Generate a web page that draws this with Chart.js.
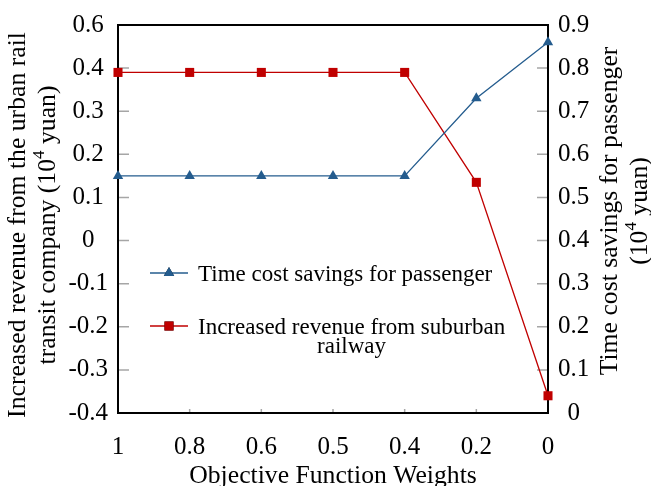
<!DOCTYPE html>
<html>
<head>
<meta charset="utf-8">
<script src="https://cdn.jsdelivr.net/npm/chart.js@4"></script>
<style>
  html, body { margin: 0; padding: 0; background: #fff; }
  #wrap { width: 651px; height: 486px; }
</style>
</head>
<body>
<div id="wrap"><canvas id="c" width="651" height="486"></canvas></div>
<script>
// Objective function weights along the x axis
const weights = ['1', '0.8', '0.6', '0.5', '0.4', '0.2', '0'];
// Time cost savings for passenger (10^4 yuan), right axis
const timeSavings = [0.55, 0.55, 0.55, 0.55, 0.55, 0.73, 0.86];
// Increased revenue from suburban railway (10^4 yuan), left axis
const revenue = [0.39, 0.39, 0.39, 0.39, 0.39, 0.135, -0.36];
// Tick labels printed on the left axis, bottom to top
const leftTickLabels = ['-0.4', '-0.3', '-0.2', '-0.1', '0', '0.1', '0.2', '0.3', '0.4', '0.6'];

const BLUE = '#245C8E';
const RED = '#C00000';
const FONT = "'Liberation Serif', 'Times New Roman', serif";
const TITLE_SIZE = 25.7;

Chart.defaults.font.family = FONT;
Chart.defaults.color = '#000';

// Draws a run of text pieces, some of them raised as superscripts
function richText(ctx, parts, x, y, size, align) {
  const supSize = Math.round(size * 0.66);
  let total = 0;
  parts.forEach(p => {
    ctx.font = (p.sup ? supSize : size) + 'px ' + FONT;
    p.w = ctx.measureText(p.t).width;
    total += p.w;
  });
  let cx = align === 'center' ? x - total / 2 : x;
  ctx.textAlign = 'left';
  ctx.textBaseline = 'alphabetic';
  parts.forEach(p => {
    ctx.font = (p.sup ? supSize : size) + 'px ' + FONT;
    ctx.fillText(p.t, cx, p.sup ? y - size * 0.42 : y);
    cx += p.w;
  });
}

const framePlugin = {
  id: 'frame',
  beforeDatasetsDraw(chart) {
    const { ctx, chartArea: a, scales } = chart;
    ctx.save();
    // inner tick marks
    ctx.strokeStyle = '#A6A6A6';
    ctx.lineWidth = 1.5;
    ctx.beginPath();
    scales.y.ticks.forEach(t => {
      const py = scales.y.getPixelForValue(t.value);
      ctx.moveTo(a.left, py); ctx.lineTo(a.left + 11, py);
    });
    scales.y1.ticks.forEach(t => {
      const py = scales.y1.getPixelForValue(t.value);
      ctx.moveTo(a.right, py); ctx.lineTo(a.right - 11, py);
    });
    scales.x.ticks.forEach((t, i) => {
      const px = scales.x.getPixelForTick(i);
      ctx.moveTo(px, a.bottom); ctx.lineTo(px, a.bottom - 4);
    });
    ctx.stroke();
    // plot frame
    ctx.strokeStyle = '#000';
    ctx.lineWidth = 2;
    ctx.strokeRect(a.left, a.top, a.right - a.left, a.bottom - a.top);
    ctx.restore();
  },
  afterDraw(chart) {
    const { ctx, chartArea: a } = chart;
    ctx.save();
    ctx.fillStyle = '#000';

    // x axis title
    ctx.font = TITLE_SIZE + 'px ' + FONT;
    ctx.textAlign = 'center';
    ctx.textBaseline = 'alphabetic';
    ctx.fillText('Objective Function Weights', (a.left + a.right) / 2, 483);

    // left axis title
    ctx.save();
    ctx.translate(25, 225);
    ctx.rotate(-Math.PI / 2);
    richText(ctx, [{ t: 'Increased revenue from the urban rail' }], 0, 0, TITLE_SIZE, 'center');
    richText(ctx, [{ t: 'transit company (10' }, { t: '4', sup: true }, { t: ' yuan)' }], 0, 30, TITLE_SIZE, 'center');
    ctx.restore();

    // right axis title
    ctx.save();
    ctx.translate(617, 211);
    ctx.rotate(-Math.PI / 2);
    richText(ctx, [{ t: 'Time cost savings for passenger' }], 0, 0, TITLE_SIZE, 'center');
    richText(ctx, [{ t: '(10' }, { t: '4', sup: true }, { t: ' yuan)' }], 0, 30, TITLE_SIZE, 'center');
    ctx.restore();

    // legend
    const items = [
      { color: BLUE, style: 'triangle', y: 273, lines: ['Time cost savings for passenger'] },
      { color: RED, style: 'rect', y: 326, lines: ['Increased revenue from suburban', 'railway'] }
    ];
    items.forEach(it => {
      ctx.strokeStyle = it.color;
      ctx.lineWidth = 1.3;
      ctx.beginPath();
      ctx.moveTo(150, it.y); ctx.lineTo(188, it.y);
      ctx.stroke();
      Chart.helpers.drawPoint(ctx, {
        pointStyle: it.style, radius: it.style === 'rect' ? 6.4 : 6, rotation: 0, borderWidth: 0
      }, 169, it.y);
      ctx.fillStyle = it.color;
      ctx.fill();
      ctx.fillStyle = '#000';
      ctx.font = '23px ' + FONT;
      ctx.textAlign = 'left';
      ctx.textBaseline = 'alphabetic';
      ctx.fillText(it.lines[0], 198, it.y + 8);
      if (it.lines[1]) {
        const w = ctx.measureText(it.lines[0]).width;
        ctx.textAlign = 'center';
        ctx.fillText(it.lines[1], 198 + w / 2, it.y + 27);
      }
    });
    ctx.restore();
  }
};

const tickFont = { family: FONT, size: 25 };

new Chart(document.getElementById('c'), {
  type: 'line',
  data: {
    labels: weights,
    datasets: [
      {
        label: 'Time cost savings for passenger',
        data: timeSavings,
        yAxisID: 'y1',
        borderColor: BLUE,
        backgroundColor: BLUE,
        borderWidth: 1.3,
        pointStyle: 'triangle',
        pointRadius: 6,
        pointBorderWidth: 0,
        tension: 0,
        clip: false
      },
      {
        label: 'Increased revenue from suburban railway',
        data: revenue,
        yAxisID: 'y',
        borderColor: RED,
        backgroundColor: RED,
        borderWidth: 1.3,
        pointStyle: 'rect',
        pointRadius: 6.4,
        pointBorderWidth: 0,
        tension: 0,
        clip: false
      }
    ]
  },
  options: {
    responsive: false,
    animation: false,
    devicePixelRatio: 1,
    layout: { padding: { top: 20, left: 0, right: 0, bottom: 0 } },
    plugins: { legend: { display: false }, tooltip: { enabled: false } },
    scales: {
      x: {
        type: 'category',
        offset: false,
        grid: { display: false, drawTicks: false },
        border: { display: false },
        ticks: { color: '#000', font: tickFont, padding: 19, maxRotation: 0, autoSkip: false },
        afterFit(s) { s.height = 73; }
      },
      y: {
        position: 'left',
        min: -0.4,
        max: 0.5,
        grid: { display: false, drawTicks: false },
        border: { display: false },
        ticks: {
          stepSize: 0.1,
          color: '#000',
          font: tickFont,
          padding: 10,
          crossAlign: 'center',
          callback: (v, i) => leftTickLabels[i]
        },
        afterFit(s) { s.width = 118; }
      },
      y1: {
        position: 'right',
        min: 0,
        max: 0.9,
        grid: { display: false, drawTicks: false },
        border: { display: false },
        ticks: {
          stepSize: 0.1,
          color: '#000',
          font: tickFont,
          padding: 10,
          crossAlign: 'center',
          callback: v => String(Math.round(v * 10) / 10)
        },
        afterFit(s) { s.width = 103; }
      }
    }
  },
  plugins: [framePlugin]
});
</script>
</body>
</html>
